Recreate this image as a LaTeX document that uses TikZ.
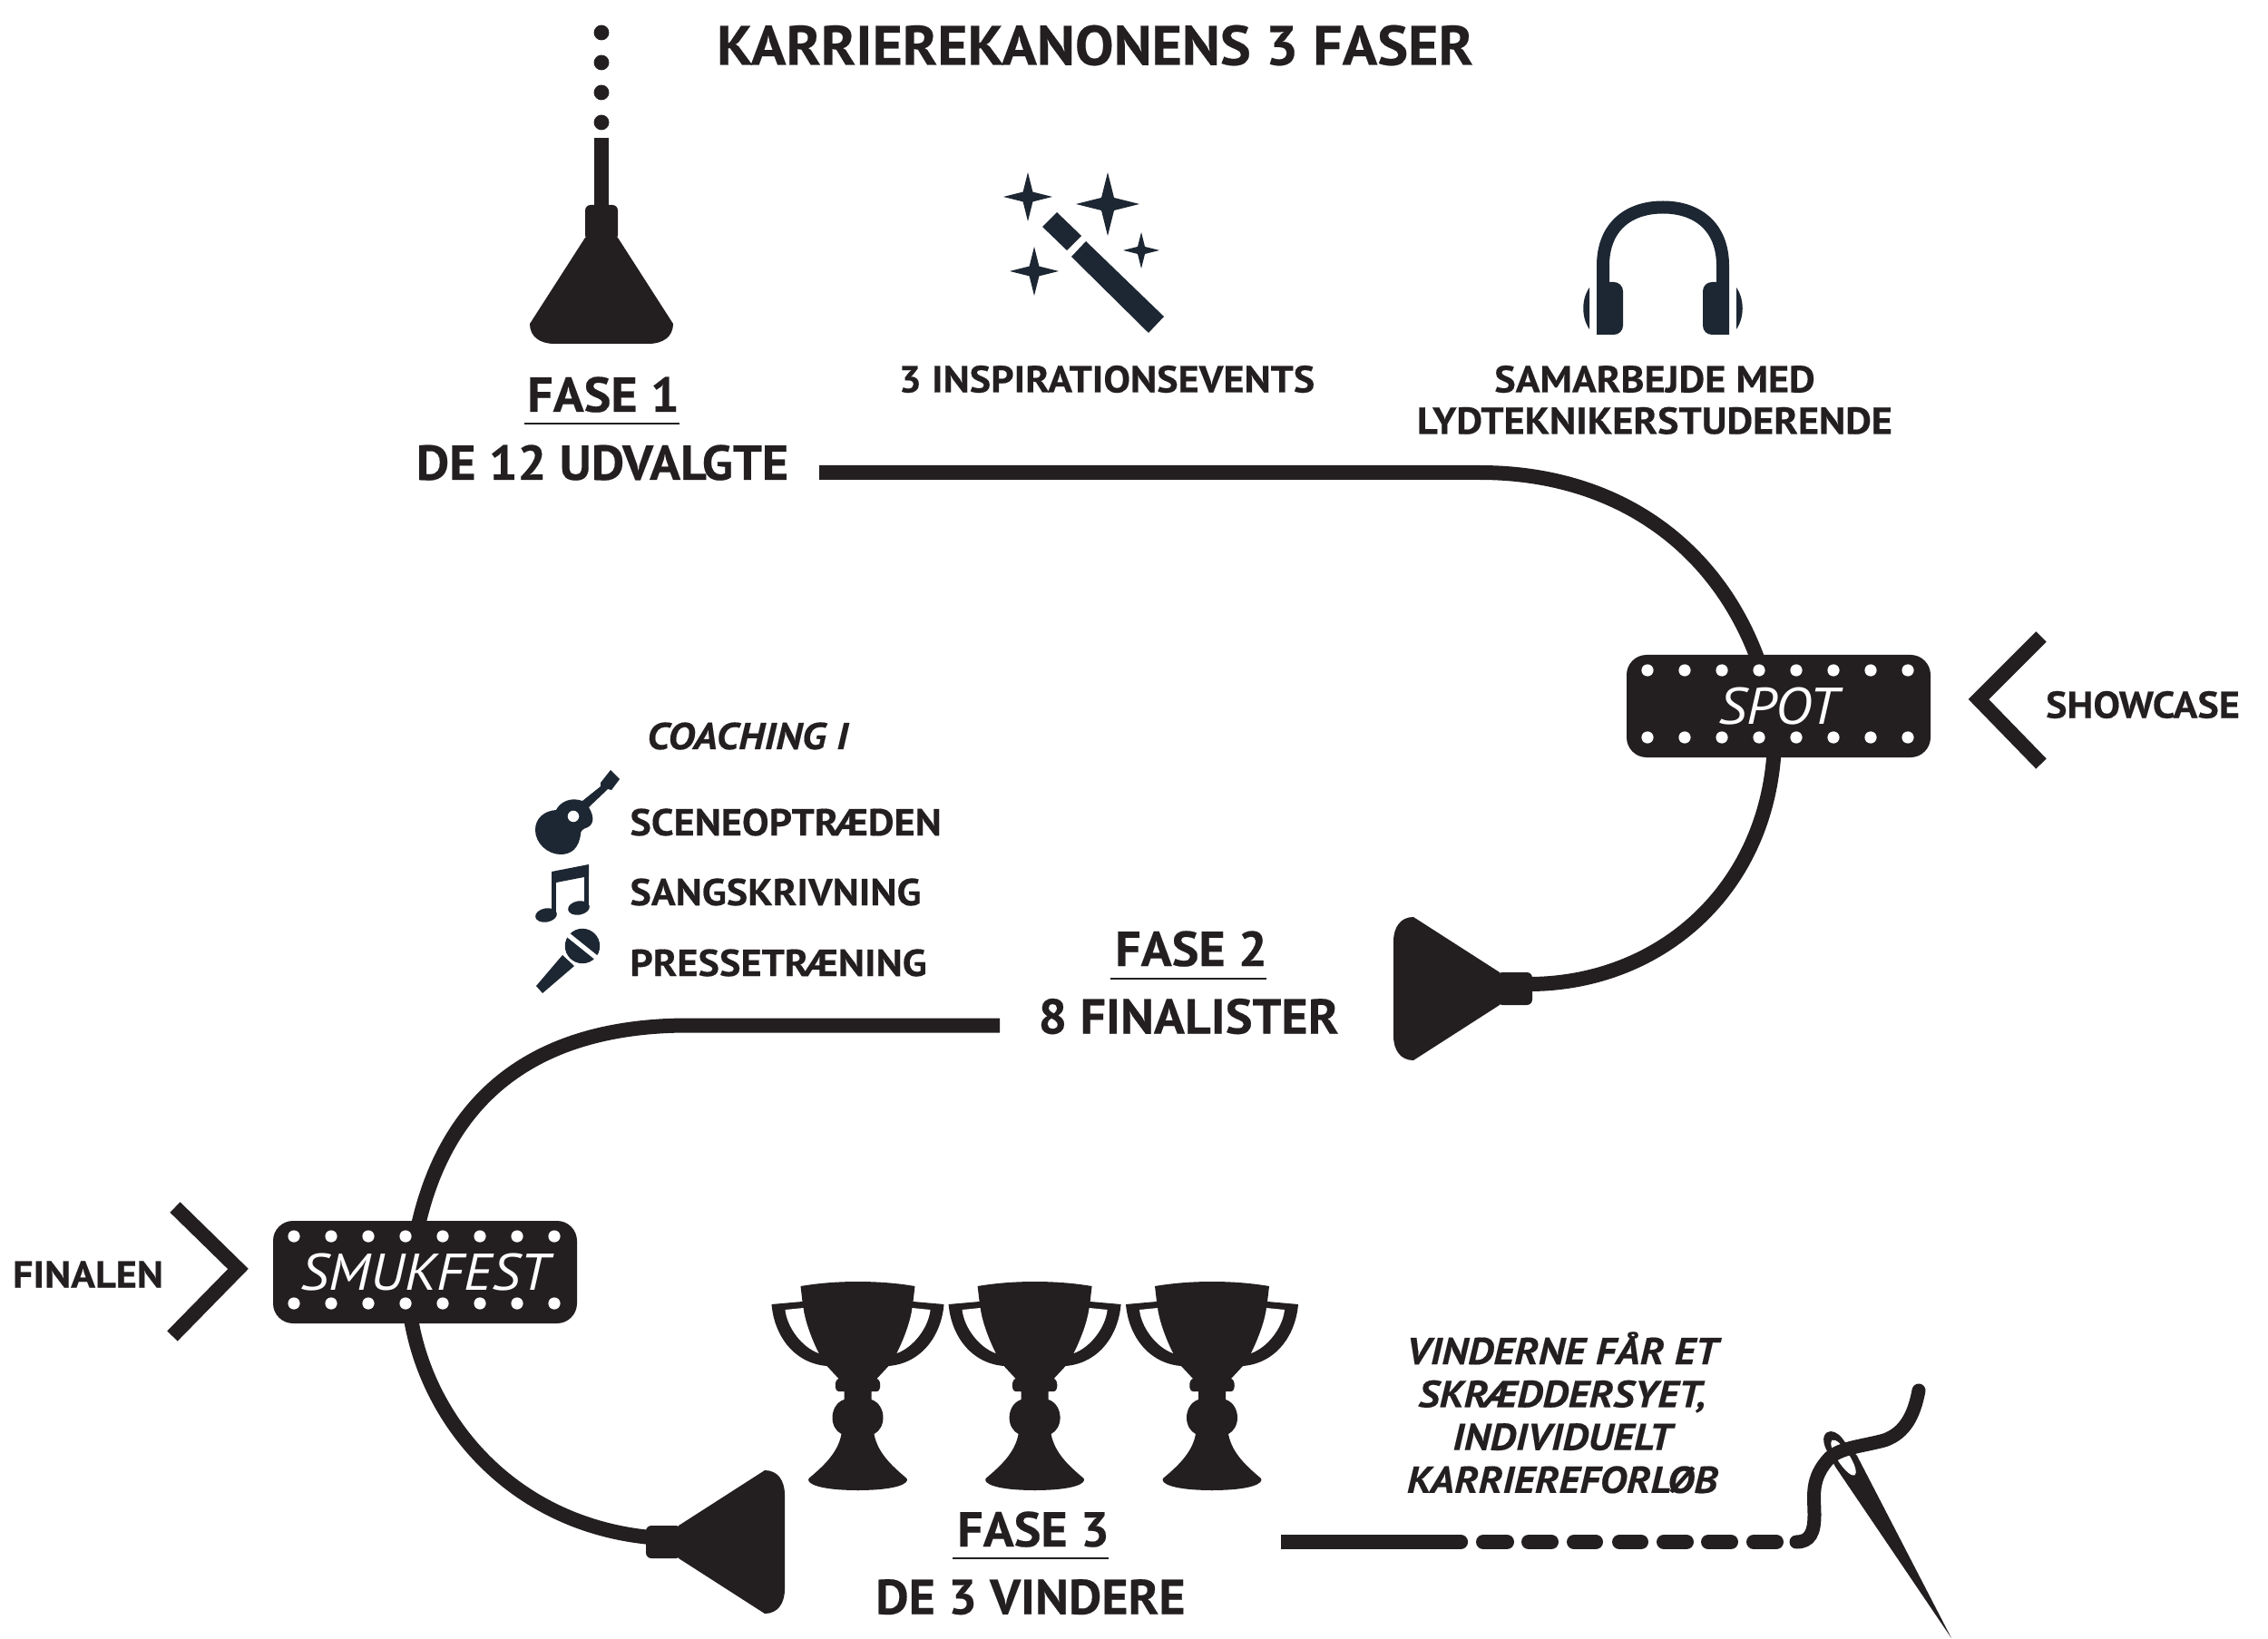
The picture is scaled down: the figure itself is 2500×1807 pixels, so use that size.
\documentclass[tikz,border=0pt]{standalone}
\usepackage{xcolor}
\usepackage{fontspec}
\setmainfont{PT Sans}
\newfontfamily\titlefont{PT Sans}[FakeStretch=1.04, BoldFeatures={FakeBold=0.35}]
\newfontfamily\itemfont{PT Sans}[FakeStretch=1.07, BoldFeatures={FakeBold=0.35}]
\newfontfamily\slantfont{PT Sans}[FakeStretch=1.1, BoldItalicFeatures={FakeBold=0.35}]
\usetikzlibrary{positioning, calc}
\definecolor{inkblack}{HTML}{231F20}
\definecolor{iconnavy}{HTML}{1D2733}

\begin{document}
\begin{tikzpicture}[
  x=0.5pt, y=-0.5pt,
  track/.style={draw=inkblack, line width=8pt},
  pinline/.style={draw=inkblack, line width=8pt, line cap=round},
  chevron/.style={draw=inkblack, line width=8pt, miter limit=10},
  headrule/.style={draw=inkblack, line width=1pt},
  title/.style={inner sep=0pt, text=inkblack, text height=21.5pt, text depth=0pt, font=\titlefont\fontsize{30.7}{34}\selectfont\bfseries},
  phase/.style={inner sep=0pt, text=inkblack, text height=19pt, text depth=0pt, font=\titlefont\fontsize{27}{30}\selectfont\bfseries},
  item/.style={inner sep=0pt, text=inkblack, text height=14.5pt, text depth=0pt, font=\itemfont\fontsize{20.7}{23.25}\selectfont\bfseries},
  itemslant/.style={item, font=\slantfont\fontsize{20.7}{23.25}\selectfont\bfseries\itshape},
  ticket/.style={rectangle, rounded corners=11pt, fill=inkblack, inner sep=0pt, text=white, text height=20pt, text depth=0pt, minimum height=56.5pt, font=\itemfont\fontsize{28.5}{30}\selectfont\itshape},
  plug/.pic={
    \coordinate (-neck) at (0,0);
    \fill[inkblack, rounded corners=3pt] (0,-18) -- (39,-18) -- (39,18) -- (0,18) -- cycle;
    \fill[inkblack] (36,-18) -- (131,-79) .. controls (145,-79) and (153,-68) .. (153,-52)
      -- (153,52) .. controls (153,68) and (145,79) .. (131,79) -- (36,18) -- cycle;
  },
  trophy/.pic={
    \foreach \s in {1,-1} {
      \begin{scope}[xscale=\s]
        \fill[inkblack] (1,0) .. controls (-25,0) and (-45,2) .. (-63,5) -- (-61,22) -- (-95,25)
          .. controls (-92,60) and (-70,90) .. (-34,93) -- (-21,107)
          .. controls (-26,108) and (-26,121) .. (-21,121) -- (-15,121) -- (-15,130)
          .. controls (-24,133) and (-28,142) .. (-28,150) .. controls (-28,158) and (-24,165) .. (-18,168)
          .. controls (-22,190) and (-40,205) .. (-54,217) .. controls (-57,222) and (-45,230) .. (1,230) -- cycle;
        \fill[white] (-80,31) -- (-60,29) .. controls (-58,45) and (-50,65) .. (-43,79)
          .. controls (-62,72) and (-78,50) .. (-80,31) -- cycle;
      \end{scope}
    }
  }
]
  \fill[white] (0,0) rectangle (2500,1807);
  \useasboundingbox (0,0) rectangle (2500,1807);

  \node[title] (heading) at (1207,50) {KARRIEREKANONENS 3 FASER};

  % phase 1
  \foreach \dy in {36,69,102,135}
    \fill[inkblack] (663,\dy) circle[radius=4.2pt];
  \pic[rotate=-90] (plugone) at (663,226) {plug};
  \coordinate (stem) at (663,152);
  \draw[track] (stem) -- (plugone-neck);
  \node[phase] (faseone) at (665,435) {FASE 1};
  \draw[headrule] (578,467) -- (749,467);
  \node[phase] (chosen) at (664,510) {DE 12 UDVALGTE};

  % wand and stars
  \foreach \cx/\cy/\r in {1133/217/27, 1221/225/35, 1258/276/20, 1140/299/27}
    \fill[iconnavy] (\cx,\cy-\r) -- (\cx+.2*\r,\cy-.2*\r) -- (\cx+\r,\cy) -- (\cx+.2*\r,\cy+.2*\r)
      -- (\cx,\cy+\r) -- (\cx-.2*\r,\cy+.2*\r) -- (\cx-\r,\cy) -- (\cx-.2*\r,\cy-.2*\r) -- cycle;
  \fill[iconnavy] (1165,234) -- (1192,260) -- (1176,276) -- (1149,250) -- cycle;
  \fill[iconnavy] (1197,266) -- (1283,349) -- (1266,367) -- (1181,283) -- cycle;
  \node[item] (events) at (1220,418) {3 INSPIRATIONSEVENTS};

  % headphones
  \draw[iconnavy, line width=7pt] (1767,369) -- (1767,293) .. controls (1767,250) and (1795,228.5) .. (1833,228.5)
    .. controls (1871,228.5) and (1899,250) .. (1899,293) -- (1899,369);
  \fill[iconnavy, rounded corners=5pt] (1763,311) -- (1789,311) -- (1789,369) -- (1763,369) -- cycle;
  \fill[iconnavy, rounded corners=5pt] (1877,311) -- (1903,311) -- (1903,369) -- (1877,369) -- cycle;
  \fill[iconnavy] (1752,317) .. controls (1743,330) and (1743,350) .. (1752,363) -- cycle;
  \fill[iconnavy] (1914,317) .. controls (1923,330) and (1923,350) .. (1914,363) -- cycle;
  \node[item] (working) at (1824,418) {SAMARBEJDE MED};
  \node[item, below=8pt of working] (students) {LYDTEKNIKERSTUDERENDE};

  % boxes
  \coordinate (startone) at (903,521);
  \coordinate (bendone) at (1631,521);
  \coordinate (spotin) at (1942,740);
  \coordinate (spotout) at (1956,820);
  \pic[rotate=180] (plugtwo) at (1689,1090) {plug};
  \draw[track] (startone) -- (bendone) .. controls (1790,521) and (1900,610) .. (spotin);
  \draw[track] (spotout) .. controls (1950,980) and (1830,1085) .. ($(plugtwo-neck)+(-4,-5)$);
  \node[ticket, minimum width=167.5pt] (spot) at (1960.5,778.5) {SPOT};
  \foreach \i in {0,...,7} {
    \fill[white] ($(spot.center)+(-144.5+41*\i,-39.5)$) circle[radius=3.3pt];
    \fill[white] ($(spot.center)+(-144.5+41*\i,34.5)$) circle[radius=3.3pt];
  }
  \draw[chevron] (2250,702) -- (2181,771) -- (2250,842);
  \node[item] (showcase) at (2362,777) {SHOWCASE};

  % coaching
  \node[itemslant] (coaching) at (824,811.5) {COACHING I};
  \fill[iconnavy, even odd rule] (673,849) -- (683,859) -- (674,871) -- (670,870) -- (649,890)
    .. controls (655,900) and (655,908) .. (648,912) .. controls (642,914) and (640,916) .. (640,920)
    .. controls (638,935) and (630,942) .. (618,942) .. controls (604,942) and (590,930) .. (590,915)
    .. controls (590,902) and (600,894) .. (613,893) .. controls (617,885) and (628,878) .. (642,883)
    -- (662,867) -- (662,863) -- cycle (632,900) circle[radius=3.2pt];
  \draw[iconnavy, line width=2.6pt] (610.5,1005) -- (610.5,966) (646.5,998) -- (646.5,958);
  \fill[iconnavy] (608,961) -- (649,953) -- (649,966) -- (613,973) -- (608,973) -- cycle;
  \fill[iconnavy, rotate around={10:(602,1009)}] (602,1009) ellipse[x radius=6pt, y radius=3.8pt];
  \fill[iconnavy, rotate around={10:(638,1001)}] (638,1001) ellipse[x radius=6pt, y radius=3.8pt];
  \fill[iconnavy] (642,1043) circle[radius=9.6pt];
  \fill[iconnavy] (620,1053) -- (633,1065) -- (598,1095) -- (591,1087) -- cycle;
  \draw[white, line width=2.6pt] (624,1029) -- (660,1058);
  \node[item, anchor=west] (stage) at (694,906.5) {SCENEOPTRÆDEN};
  \node[item, anchor=west] (songs) at (694,983.5) {SANGSKRIVNING};
  \node[item, anchor=west] (press) at (694,1061.5) {PRESSETRÆNING};

  % phase 2
  \node[phase] (fasetwo) at (1313,1046) {FASE 2};
  \draw[headrule] (1224,1079) -- (1396,1079);
  \node[phase] (finalists) at (1310,1120.5) {8 FINALISTER};
  \coordinate (starttwo) at (1102,1130.5);
  \coordinate (bendtwo) at (759,1130.5);
  \coordinate (smukin) at (458,1365);
  \coordinate (smukout) at (451,1440);
  \pic (plugthree) at (712,1700) {plug};
  \draw[track] (starttwo) -- (bendtwo) .. controls (600,1130.5) and (490,1200) .. (smukin);
  \draw[track] (smukout) .. controls (465,1560) and (560,1680) .. ($(plugthree-neck)+(5,-5)$);
  \node[ticket, minimum width=167.5pt] (smukfest) at (468.5,1402.5) {SMUKFEST};
  \foreach \i in {0,...,7} {
    \fill[white] ($(smukfest.center)+(-144.5+41*\i,-39.5)$) circle[radius=3.3pt];
    \fill[white] ($(smukfest.center)+(-144.5+41*\i,34.5)$) circle[radius=3.3pt];
  }
  \draw[chevron] (193,1331) -- (262.5,1399) -- (190,1473);
  \node[item] (finale) at (97,1405) {FINALEN};

  % phase 3
  \foreach \tx in {945.5,1140.6,1336}
    \pic at (\tx,1413) {trophy};
  \node[phase] (fasethree) at (1139,1686) {FASE 3};
  \draw[headrule] (1050,1718) -- (1222,1718);
  \node[phase] (winners) at (1136,1760.5) {DE 3 VINDERE};
  \node[itemslant] (tailorone) at (1722,1489.5) {VINDERNE FÅR ET};
  \node[itemslant, below=8.75pt of tailorone] (tailortwo) {SKRÆDDERSYET,};
  \node[itemslant, below=8.75pt of tailortwo] (tailorthree) {INDIVIDUELT};
  \node[itemslant, below=8.75pt of tailorthree] (tailorfour) {KARRIEREFORLØB};

  % seam and needle
  \coordinate (startthree) at (1412,1700);
  \coordinate (seamend) at (1610,1700);
  \draw[track] (startthree) -- (seamend);
  \draw[pinline] (seamend) -- +(0.1,0);
  \foreach \a/\b in {1635/1661, 1685/1710, 1735/1759, 1785/1809, 1834/1859, 1883/1908, 1933/1958}
    \draw[pinline] (\a,1700) -- (\b,1700);
  \fill[inkblack] (2151,1806) -- (2023,1617) -- (2014,1600) .. controls (2006,1585) and (2012,1578) .. (2018,1578)
    .. controls (2024,1578) and (2030,1584) .. (2033,1589) -- (2047,1605) -- cycle;
  \coordinate (eye) at (2032,1607);
  \fill[white, rotate around={-57:(eye)}] (eye) ellipse[x radius=11.5pt, y radius=3.4pt];
  \draw[pinline, line width=7.5pt] (1980,1700) .. controls (1995,1700) and (2000,1690) .. (2000,1670)
    .. controls (2000,1650) and (1995,1630) .. (2017,1607) .. controls (2030,1596) and (2050,1595) .. (2077,1588)
    .. controls (2100,1580) and (2110,1560) .. (2115,1533);
\end{tikzpicture}
\end{document}
